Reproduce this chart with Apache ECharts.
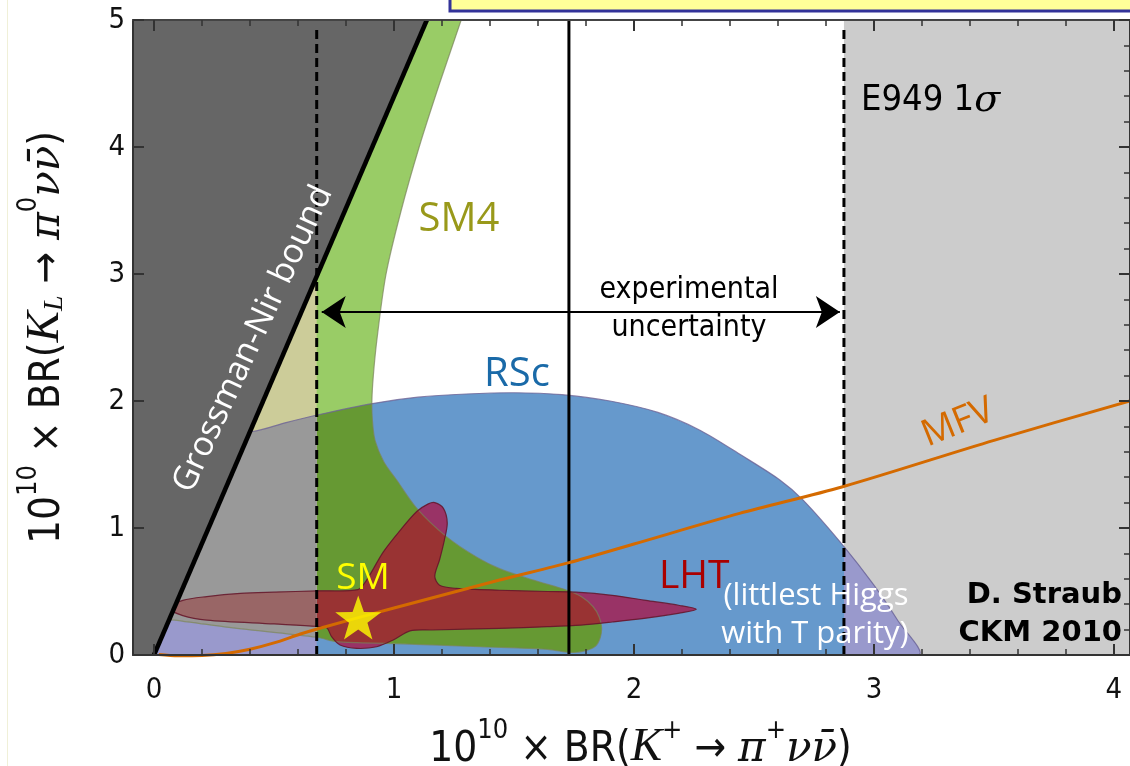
<!DOCTYPE html>
<html><head><meta charset="utf-8">
<script src="https://cdn.jsdelivr.net/npm/echarts@6/dist/echarts.min.js"></script>
<style>html,body{margin:0;padding:0;background:#fff}#c{width:1130px;height:766px}</style>
</head><body><div id="c"></div>
<script>
// ---------- data ----------
const xRange = [-0.0875, 4.067];
const yRange = [0, 5];
const xMajorTicks = [0, 1, 2, 3, 4];
const xTickLabels = ['0', '1', '2', '3', '4'];
const xMinorTicks = [0.2,0.4,0.6,0.8,1.2,1.4,1.6,1.8,2.2,2.4,2.6,2.8,3.2,3.4,3.6,3.8,4.0];
const yMajorTicks = [0, 1, 2, 3, 4, 5];
const yTickLabels = ['0', '1', '2', '3', '4', '5'];
const yMinorTicks = [0.2,0.4,0.6,0.8,1.2,1.4,1.6,1.8,2.2,2.4,2.6,2.8,3.2,3.4,3.6,3.8,4.2,4.4,4.6,4.8];

// E949 1 sigma band edges and central value
const e949Low = 0.678;
const e949High = 2.875;
const e949Central = 1.729;
const dashedTop = 4.94;
// experimental uncertainty arrow
const arrowY = 2.70;
const arrowFrom = 0.699;
const arrowTo = 2.858;

// Grossman-Nir bound line
const gnLine = [[0, 0], [1.137, 5]];

// SM4 region outline
const sm4Region = [[-0.05,0.31],[1.0,5.3],[1.33,5.3],[1.28,5],[1.19,4.5],[1.105,4.0],[1.03,3.5],[0.967,3.0],
  [0.93,2.5],[0.914,2.2],[0.908,2.0],[0.91,1.85],[0.921,1.69],[0.958,1.52],[1.011,1.378],[1.095,1.155],
  [1.22,0.93],[1.345,0.77],[1.44,0.68],[1.58,0.59],[1.72,0.51],[1.78,0.46],[1.83,0.38],[1.855,0.30],
  [1.865,0.22],[1.86,0.14],[1.84,0.07],[1.80,0.035],[1.74,0.02],[1.64,0.045],[1.36,0.065],[1.0,0.09],
  [0.76,0.105],[0.68,0.14],[0.3,0.22],[0.085,0.275]];

// RSc region outline
const rscRegion = [[-0.05,0],[-0.05,1.72],[0.41,1.76],[0.55,1.83],[0.68,1.89],[0.91,1.98],[1.1,2.03],
  [1.3,2.055],[1.5,2.065],[1.7,2.05],[1.9,2.0],[2.1,1.91],[2.275,1.77],[2.45,1.57],[2.608,1.378],
  [2.705,1.22],[2.87,0.866],[3.0,0.55],[3.1,0.27],[3.185,0.0],[2.5,0],[1.0,0]];

// LHT region outline
const lhtRegion = [[0.06,0.37],[0.12,0.43],[0.22,0.46],[0.36,0.485],[0.5,0.495],[0.68,0.505],[0.85,0.515],
  [0.886,0.59],[0.955,0.81],[1.025,0.98],[1.095,1.13],[1.143,1.19],[1.17,1.2],[1.206,1.155],[1.222,1.04],
  [1.21,0.905],[1.19,0.75],[1.17,0.62],[1.19,0.55],[1.26,0.525],[1.44,0.51],[1.64,0.50],[1.76,0.495],
  [1.91,0.47],[2.05,0.43],[2.19,0.39],[2.26,0.36],[2.19,0.33],[2.05,0.29],[1.91,0.26],[1.78,0.236],
  [1.64,0.223],[1.44,0.21],[1.16,0.197],[1.067,0.19],[0.997,0.118],[0.928,0.065],[0.845,0.052],
  [0.775,0.079],[0.74,0.144],[0.72,0.215],[0.68,0.225],[0.5,0.245],[0.22,0.275],[0.12,0.31]];

// MFV line
const mfvCurve = [[0.02,0.004],[0.1,-0.006],[0.2,-0.004],[0.3,0.012],[0.4,0.045],[0.5,0.095],[0.61,0.165],
  [0.68,0.205],[1.0,0.37],[1.44,0.59],[1.73,0.727],[2.0,0.874],[2.44,1.115],[2.87,1.325],[3.5,1.69],[4.067,2.0]];

// SM point
const smPoint = [0.851, 0.295];

// ---------- drawing ----------
const C = {
  dark: '#666666', band: '#cccccc', rsc: '#6699cc', rscBand: '#9999cc',
  sm4: '#99cc66', sm4Band: '#cccc99', sm4Rsc: '#669933', sm4RscBand: '#999999',
  lht: '#993366', lhtSm4: '#993333', lhtBand: '#996666'
};
const SM = 0.3;

function renderRegions(params, api) {
  const pts = a => a.map(p => api.coord(p));
  const shp = (a, s) => ({ points: pts(a), smooth: s });
  const poly = (a, fill, clip) => {
    const el = { type: 'polygon', shape: shp(a, SM), style: { fill: fill } };
    if (clip) el.clipPath = { type: 'polygon', shape: shp(clip, SM) };
    return el;
  };
  const rectPoly = (a, fill) => ({ type: 'polygon', shape: shp(a, 0), style: { fill: fill } });
  const outline = (a, color, w) => ({ type: 'polygon', shape: shp(a, SM), style: { fill: 'none', stroke: color, lineWidth: w } });
  const leftBand = [[xRange[0], yRange[0]], [e949Low, yRange[0]], [e949Low, yRange[1]], [xRange[0], yRange[1]]];
  const rightBand = [[e949High, yRange[0]], [xRange[1], yRange[0]], [xRange[1], yRange[1]], [e949High, yRange[1]]];
  const dark = [[xRange[0], 0], gnLine[0], gnLine[1], [xRange[0], 5]];
  return {
    type: 'group',
    children: [
      rectPoly(leftBand, C.band), rectPoly(rightBand, C.band),
      poly(rscRegion, C.rsc),
      poly(sm4Region, C.sm4),
      poly(sm4Region, C.sm4Rsc, rscRegion),
      poly(lhtRegion, C.lht),
      poly(lhtRegion, C.lhtSm4, sm4Region),
      { type: 'group', clipPath: { type: 'polygon', shape: shp(leftBand, 0) }, children: [
        poly(rscRegion, C.rscBand),
        poly(sm4Region, C.sm4Band),
        poly(sm4Region, C.sm4RscBand, rscRegion),
        poly(lhtRegion, C.lhtBand)
      ] },
      { type: 'group', clipPath: { type: 'polygon', shape: shp(rightBand, 0) }, children: [
        poly(rscRegion, C.rscBand)
      ] },
      outline(rscRegion, 'rgba(110,100,150,0.8)', 1.2),
      outline(sm4Region, 'rgba(120,130,90,0.7)', 1.2),
      outline(lhtRegion, 'rgba(100,20,40,0.85)', 1.2),
      rectPoly(dark, C.dark)
    ]
  };
}

const condFont = '"DejaVu Sans Condensed","Liberation Sans Narrow","DejaVu Sans",sans-serif';
const sansFont = '"Open Sans","DejaVu Sans",sans-serif';
const mathFont = '"Liberation Serif","DejaVu Serif",serif';
const greekFont = '"DejaVu Serif",serif';

const titleRich = {
  n: { fontSize: 42, fontFamily: condFont, color: '#111', lineHeight: 54, verticalAlign: 'bottom' },
  s: { fontSize: 27, fontFamily: condFont, color: '#111', lineHeight: 27, verticalAlign: 'top' },
  b: { fontSize: 28, fontFamily: mathFont, fontStyle: 'italic', color: '#111', lineHeight: 38, verticalAlign: 'bottom' },
  i: { fontSize: 47, fontFamily: mathFont, fontStyle: 'italic', color: '#111', lineHeight: 54, verticalAlign: 'bottom' },
  g: { fontSize: 42, fontFamily: greekFont, fontStyle: 'italic', color: '#111', lineHeight: 54, verticalAlign: 'bottom' }
};

const axisCommon = { type: 'value', min: xRange[0], max: xRange[1], splitLine: { show: false }, z: 10 };
const tickStyle = { color: '#333', width: 2 };
const chart = echarts.init(document.getElementById('c'));
chart.setOption({
  animation: false,
  backgroundColor: '#ffffff',
  grid: { left: 133, top: 20, right: 0, bottom: 111, containLabel: false, outerBoundsMode: 'none' },
  xAxis: [
    Object.assign({}, axisCommon, {
      position: 'bottom',
      axisLine: { show: true, onZero: false, lineStyle: { color: '#333', width: 2 } },
      axisTick: { show: true, inside: true, length: 11, customValues: xMajorTicks, lineStyle: tickStyle },
      axisLabel: { show: true, customValues: xMajorTicks, formatter: v => xTickLabels[xMajorTicks.indexOf(v)] ?? '',
        fontSize: 29, fontFamily: condFont, color: '#111', margin: 21 },
      name: '{n|10}{s|10}{n| × BR(}{i|K}{s|+}{n| → }{g|π}{s|+}{g|νν̄}{n|)}',
      nameLocation: 'middle', nameGap: 62, nameTextStyle: { rich: titleRich, padding: [0, 0, 0, 18] }
    }),
    Object.assign({}, axisCommon, {
      position: 'bottom', axisLine: { show: false, onZero: false },
      axisTick: { show: true, inside: true, length: 6, customValues: xMinorTicks, lineStyle: { color: '#333', width: 1.5 } },
      axisLabel: { show: false }
    }),
    Object.assign({}, axisCommon, {
      position: 'top', axisLine: { show: true, onZero: false, lineStyle: { color: '#444', width: 2 } },
      axisTick: { show: true, inside: true, length: 11, customValues: xMajorTicks, lineStyle: tickStyle },
      axisLabel: { show: false }
    }),
    Object.assign({}, axisCommon, {
      position: 'top', axisLine: { show: false, onZero: false },
      axisTick: { show: true, inside: true, length: 6, customValues: xMinorTicks, lineStyle: { color: '#333', width: 1.5 } },
      axisLabel: { show: false }
    })
  ],
  yAxis: [
    { type: 'value', min: yRange[0], max: yRange[1], position: 'left', z: 10, splitLine: { show: false },
      axisLine: { show: true, onZero: false, lineStyle: { color: '#333', width: 2 } },
      axisTick: { show: true, inside: true, length: 11, customValues: yMajorTicks, lineStyle: tickStyle },
      axisLabel: { show: true, customValues: yMajorTicks, formatter: v => yTickLabels[yMajorTicks.indexOf(v)] ?? '',
        fontSize: 29, fontFamily: condFont, color: '#111', margin: 8 },
      name: '{n|10}{s|10}{n| × BR(}{i|K}{b|L}{n| → }{g|π}{s|0}{g|νν̄}{n|)}',
      nameLocation: 'middle', nameGap: 64, nameRotate: 90, nameTextStyle: { rich: titleRich } },
    { type: 'value', min: yRange[0], max: yRange[1], position: 'right', z: 10, splitLine: { show: false },
      axisLine: { show: true, onZero: false, lineStyle: { color: '#333', width: 2 } },
      axisTick: { show: true, inside: true, length: 11, customValues: yMajorTicks, lineStyle: tickStyle },
      axisLabel: { show: false } },
    { type: 'value', min: yRange[0], max: yRange[1], position: 'right', z: 10, splitLine: { show: false },
      axisLine: { show: false, onZero: false },
      axisTick: { show: true, inside: true, length: 6, customValues: yMinorTicks, lineStyle: { color: '#333', width: 1.5 } },
      axisLabel: { show: false } }
  ],
  series: [
    { type: 'custom', coordinateSystem: 'cartesian2d', data: [[0, 0]], renderItem: renderRegions, silent: true, clip: true, z: 1 },
    { type: 'line', data: gnLine, symbol: 'none', lineStyle: { color: '#000', width: 4.5 }, z: 3, silent: true },
    { type: 'line', data: [[e949Central, yRange[0]], [e949Central, yRange[1]]], symbol: 'none', lineStyle: { color: '#000', width: 3 }, z: 3 },
    { type: 'line', data: [[e949Low, yRange[0]], [e949Low, dashedTop]], symbol: 'none', lineStyle: { color: '#000', width: 3, type: [9, 5] }, z: 3 },
    { type: 'line', data: [[e949High, yRange[0]], [e949High, dashedTop]], symbol: 'none', lineStyle: { color: '#000', width: 3, type: [9, 5] }, z: 3 },
    { type: 'line', data: mfvCurve, symbol: 'none', smooth: 0.3, lineStyle: { color: '#d46a00', width: 3 }, z: 4, clip: false },
    { type: 'lines', coordinateSystem: 'cartesian2d', z: 4, symbol: ['arrow', 'arrow'], symbolSize: 24,
      lineStyle: { color: '#000', width: 2, opacity: 1 },
      data: [{ coords: [[arrowFrom, arrowY], [arrowTo, arrowY]] }] },
    { type: 'scatter', data: [smPoint], z: 5, symbolSize: [46, 44],
      symbol: 'path://M0,-10 L2.35,-3.24 L9.51,-3.09 L3.8,1.24 L5.88,8.09 L0,4.0 L-5.88,8.09 L-3.8,1.24 L-9.51,-3.09 L-2.35,-3.24 Z',
      itemStyle: { color: '#ffff00' } }
  ],
  graphic: [
    { type: 'rect', shape: { x: 450, y: -6, width: 700, height: 17 }, style: { fill: '#ffff99', stroke: '#333399', lineWidth: 3 }, z: 100 },
    { type: 'line', shape: { x1: 7.5, y1: 0, x2: 7.5, y2: 766 }, style: { stroke: '#f0f0d8', lineWidth: 1 }, z: 100 },
    { type: 'text', x: 253, y: 339, rotation: 65 * Math.PI / 180, z: 100,
      style: { text: 'Grossman-Nir bound', fill: '#ffffff', font: '34px ' + sansFont, textAlign: 'center', textVerticalAlign: 'middle' } },
    { type: 'text', x: 459, y: 220, z: 100, style: { text: 'SM4', fill: '#99991a', font: '40px ' + sansFont, textAlign: 'center', textVerticalAlign: 'middle' } },
    { type: 'text', x: 517, y: 375, z: 100, style: { text: 'RSc', fill: '#1a6aa8', font: '40px ' + sansFont, textAlign: 'center', textVerticalAlign: 'middle' } },
    { type: 'text', x: 689, y: 290, z: 100, style: { text: 'experimental', fill: '#000', font: '30px ' + condFont, textAlign: 'center', textVerticalAlign: 'middle' } },
    { type: 'text', x: 689, y: 328, z: 100, style: { text: 'uncertainty', fill: '#000', font: '30px ' + condFont, textAlign: 'center', textVerticalAlign: 'middle' } },
    { type: 'text', x: 861, y: 101, z: 100, style: { text: '{n|E949 1}{i|σ}', textAlign: 'left', textVerticalAlign: 'middle',
      rich: { n: { fontSize: 36, fontFamily: condFont, color: '#111' }, i: { fontSize: 38, fontFamily: greekFont, fontStyle: 'italic', color: '#111' } } } },
    { type: 'text', x: 958, y: 423, rotation: 22 * Math.PI / 180, z: 100, style: { text: 'MFV', fill: '#d46a00', font: '37px ' + sansFont, textAlign: 'center', textVerticalAlign: 'middle' } },
    { type: 'text', x: 659, y: 577, z: 100, style: { text: 'LHT', fill: '#aa0000', font: '39px ' + sansFont, textAlign: 'left', textVerticalAlign: 'middle' } },
    { type: 'text', x: 816, y: 596, z: 100, style: { text: '(littlest Higgs', fill: '#ffffff', font: '31px ' + sansFont, textAlign: 'center', textVerticalAlign: 'middle' } },
    { type: 'text', x: 815, y: 634, z: 100, style: { text: 'with T parity)', fill: '#ffffff', font: '31px ' + sansFont, textAlign: 'center', textVerticalAlign: 'middle' } },
    { type: 'text', x: 363, y: 578, z: 100, style: { text: 'SM', fill: '#ffff00', font: '37px ' + sansFont, textAlign: 'center', textVerticalAlign: 'middle' } },
    { type: 'text', x: 1122, y: 595, z: 100, style: { text: 'D. Straub', fill: '#000', font: 'bold 29px "DejaVu Sans",sans-serif', textAlign: 'right', textVerticalAlign: 'middle' } },
    { type: 'text', x: 1122, y: 633, z: 100, style: { text: 'CKM 2010', fill: '#000', font: 'bold 29px "DejaVu Sans",sans-serif', textAlign: 'right', textVerticalAlign: 'middle' } }
  ]
});
</script></body></html>
